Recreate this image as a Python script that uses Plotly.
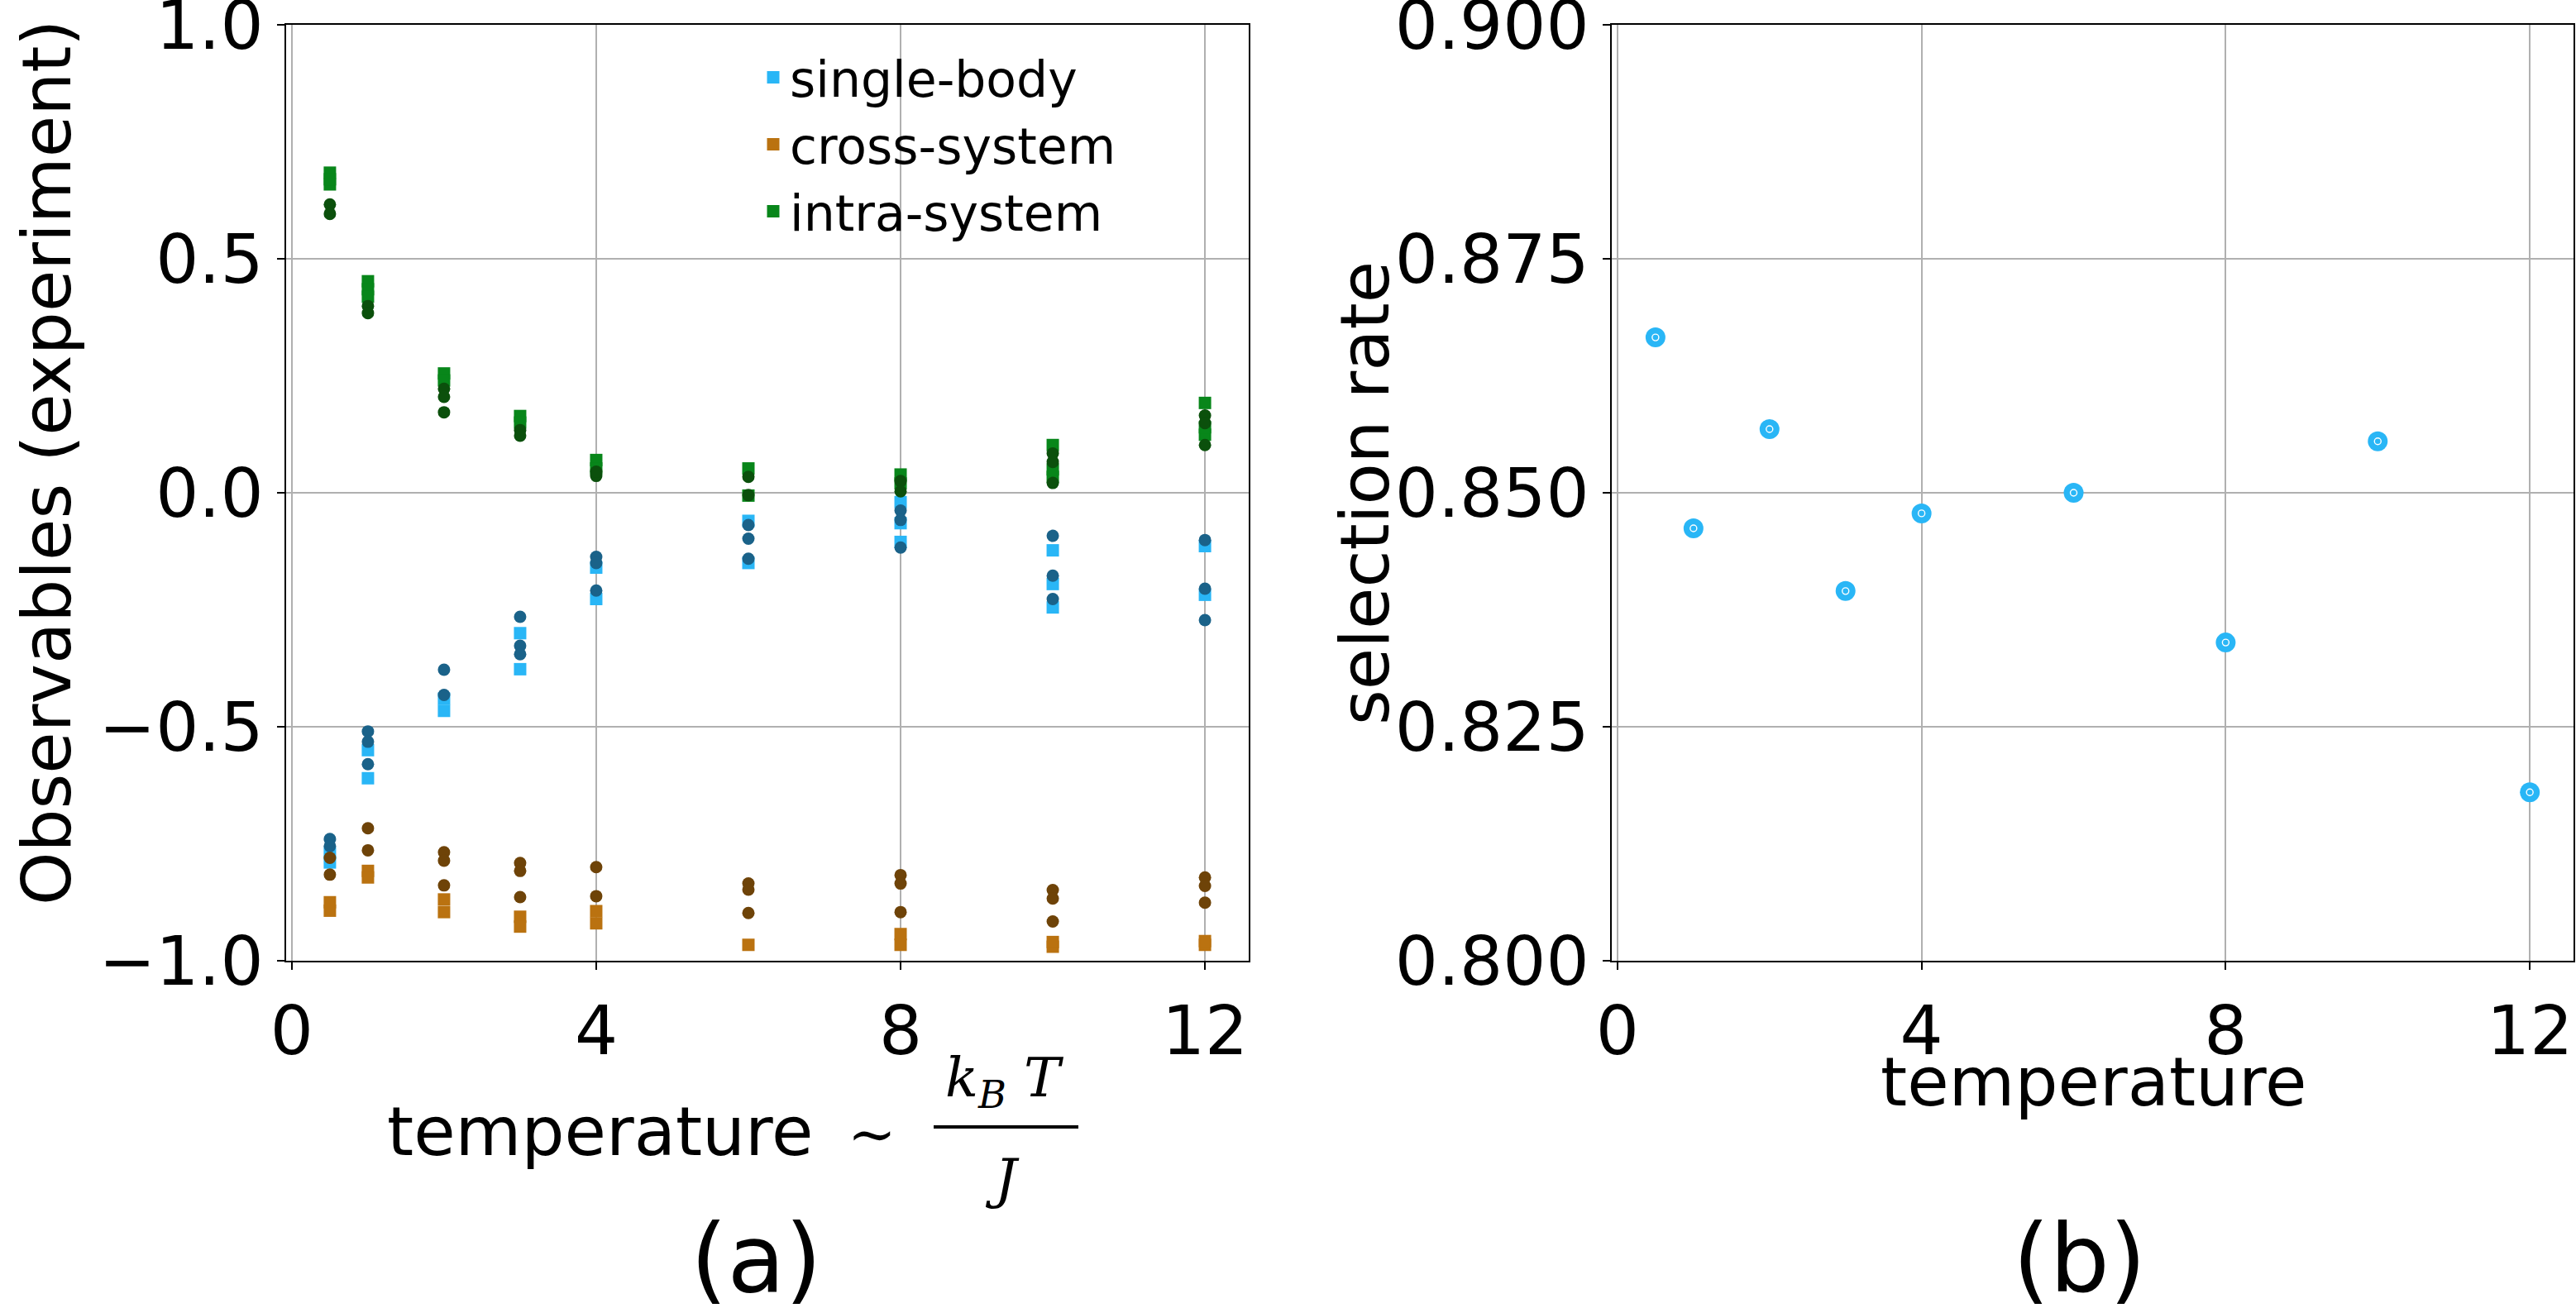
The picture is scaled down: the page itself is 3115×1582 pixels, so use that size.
import plotly.graph_objects as go

# ---------------- data ----------------
temps = [0.5, 1, 2, 3, 4, 6, 8, 10, 12]

# panel (a): observables, light = main marker set, dark = second marker set
single_light = [[-0.77, -0.79], [-0.55, -0.61], [-0.44, -0.466], [-0.30, -0.377],
                [-0.16, -0.227], [-0.06, -0.15], [-0.02, -0.065, -0.105],
                [-0.123, -0.195, -0.245], [-0.114, -0.218]]
single_dark = [[-0.74, -0.755], [-0.51, -0.532, -0.58], [-0.378, -0.432],
               [-0.265, -0.327, -0.345], [-0.137, -0.15, -0.209],
               [-0.069, -0.098, -0.141], [-0.038, -0.058, -0.117],
               [-0.092, -0.177, -0.227], [-0.101, -0.205, -0.272]]
cross_light = [[-0.875, -0.893], [-0.808, -0.822], [-0.869, -0.896], [-0.906, -0.927],
               [-0.894, -0.92], [-0.966], [-0.943, -0.966], [-0.97, -0.96],
               [-0.966, -0.958]]
cross_dark = [[-0.78, -0.816], [-0.717, -0.764], [-0.768, -0.786, -0.839],
              [-0.791, -0.808, -0.864], [-0.80, -0.862], [-0.835, -0.848, -0.898],
              [-0.817, -0.835, -0.896], [-0.849, -0.867, -0.916], [-0.822, -0.84, -0.876]]
intra_light = [[0.684, 0.659, 0.67], [0.452, 0.435, 0.419], [0.255, 0.24], [0.164, 0.15],
               [0.07, 0.052], [0.052, -0.006], [0.039, 0.02], [0.102, 0.034, 0.05],
               [0.192, 0.124, 0.14]]
intra_dark = [[0.616, 0.596], [0.399, 0.384], [0.222, 0.205, 0.172], [0.134, 0.122],
              [0.036, 0.045], [0.034, -0.005], [0.025, 0.003], [0.084, 0.066, 0.021],
              [0.165, 0.149, 0.102]]

# panel (b): selection rate
sel_temps = [0.5, 1, 2, 3, 4, 6, 8, 10, 12]
sel_rate = [0.8666, 0.8462, 0.8568, 0.8395, 0.8478, 0.8500, 0.8340, 0.8555, 0.8180]

left_xticks = [0, 4, 8, 12]
left_yticks = [-1.0, -0.5, 0.0, 0.5, 1.0]
right_yticks = [0.800, 0.825, 0.850, 0.875, 0.900]

# ---------------- helpers ----------------
def flatten(groups):
    xs, ys = [], []
    for t, vals in zip(temps, groups):
        for v in vals:
            xs.append(t)
            ys.append(v)
    return xs, ys

W, H = 3115, 1582
def px(x):
    return x / W
def py(y):
    return 1 - y / H

FONT = "DejaVu Sans"
fig = go.Figure()

light_specs = [("single-body", single_light, "#29B6F6"),
               ("cross-system", cross_light, "#BA7210"),
               ("intra-system", intra_light, "#08861A")]
dark_specs = [(single_dark, "#1A6289"),
              (cross_dark, "#6E4308"),
              (intra_dark, "#0B500C")]

for name, groups, col in light_specs:
    xs, ys = flatten(groups)
    fig.add_trace(go.Scatter(x=xs, y=ys, mode="markers", name=name,
                             marker=dict(symbol="square", size=15, color=col, line=dict(width=0)),
                             xaxis="x", yaxis="y"))
for groups, col in dark_specs:
    xs, ys = flatten(groups)
    fig.add_trace(go.Scatter(x=xs, y=ys, mode="markers", showlegend=False,
                             marker=dict(symbol="circle", size=15, color=col, line=dict(width=0)),
                             xaxis="x", yaxis="y"))

fig.add_trace(go.Scatter(x=sel_temps, y=sel_rate, mode="markers", showlegend=False,
                         marker=dict(symbol="circle", size=24, color="#29B6F6", line=dict(width=0)),
                         xaxis="x2", yaxis="y2"))
fig.add_trace(go.Scatter(x=sel_temps, y=sel_rate, mode="markers", showlegend=False,
                         marker=dict(symbol="circle-open", size=8, color="white", line=dict(width=1.4, color="white")),
                         xaxis="x2", yaxis="y2"))

axis_common = dict(showline=True, linecolor="black", linewidth=2, mirror=True,
                   ticks="outside", ticklen=9, tickwidth=2, tickcolor="black",
                   showgrid=True, gridcolor="#b0b0b0", gridwidth=2, zeroline=False,
                   automargin=False, ticklabeloverflow="allow",
                   tickfont=dict(family=FONT, size=82, color="black"))

fig.update_layout(
    width=W, height=H,
    margin=dict(l=0, r=0, t=0, b=0, autoexpand=False),
    paper_bgcolor="white", plot_bgcolor="white",
    xaxis=dict(domain=[px(346), px(1510)], range=[-0.075, 12.575], tickvals=left_xticks,
               anchor="y", ticklabelstandoff=4, **axis_common),
    yaxis=dict(domain=[py(1162), py(30)], range=[-1, 1], tickvals=left_yticks,
               tickformat=".1f", anchor="x", **axis_common),
    xaxis2=dict(domain=[px(1949), px(3112)], range=[-0.075, 12.575], tickvals=left_xticks,
                anchor="y2", ticklabelstandoff=4, **axis_common),
    yaxis2=dict(domain=[py(1162), py(30)], range=[0.8, 0.9], tickvals=right_yticks,
                tickformat=".3f", anchor="x2", **axis_common),
    legend=dict(x=px(915), y=py(48), xanchor="left", yanchor="top",
                font=dict(family=FONT, size=60, color="black"),
                bgcolor="rgba(0,0,0,0)", itemsizing="trace", tracegroupgap=0),
)

ann = []
def text(t, x, y, size=82, angle=0, family=FONT, xanchor="center"):
    ann.append(dict(text=t, x=px(x), y=py(y), xref="paper", yref="paper", showarrow=False,
                    xanchor=xanchor, yanchor="middle", textangle=angle,
                    font=dict(family=family, size=size, color="black")))

text("Observables (experiment)", 56, 560, angle=-90)
text("temperature", 725, 1368)
text("∼", 1054, 1372, size=70, family="DejaVu Serif")
text("<i>k</i><sub><i>B</i></sub> <i>T</i>", 1215, 1308, size=66, family="DejaVu Serif")
text("<i>J</i>", 1212, 1425, size=66, family="DejaVu Serif")
text("(a)", 915, 1522, size=114)
text("selection rate", 1650, 596, angle=-90)
text("temperature", 2531, 1308)
text("(b)", 2514, 1522, size=114)
fig.update_layout(annotations=ann)

fig.add_shape(type="line", xref="paper", yref="paper",
              x0=px(1129), x1=px(1304), y0=py(1363), y1=py(1363),
              line=dict(color="black", width=4))

fig.write_html("out.html")
